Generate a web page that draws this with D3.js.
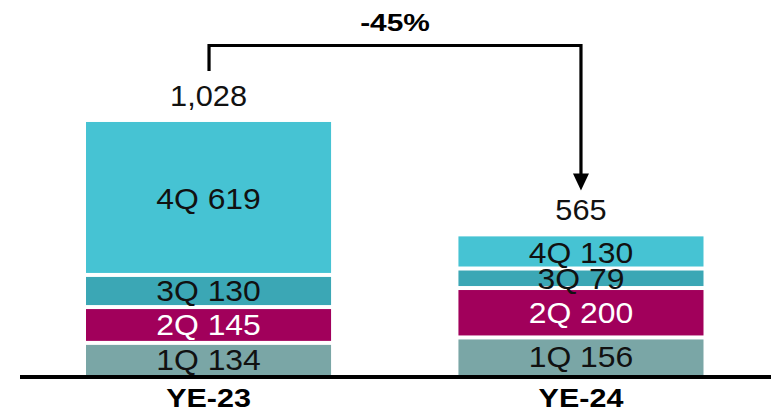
<!DOCTYPE html>
<html>
<head>
<meta charset="utf-8">
<script src="https://cdn.jsdelivr.net/npm/d3@7"></script>
<style>
  html, body { margin: 0; padding: 0; background: #ffffff; }
  svg { display: block; }
  text { font-family: "Liberation Sans", Arial, sans-serif; }
</style>
</head>
<body>
<svg id="chart" width="771" height="412"></svg>
<script>
// ---- data ----
const categories = ["YE-23", "YE-24"];
const quarters = ["1Q", "2Q", "3Q", "4Q"];
const q1 = [134, 156];
const q2 = [145, 200];
const q3 = [130, 79];
const q4 = [619, 130];
const totals = [1028, 565];
const totalLabels = ["1,028", "565"];
const changeLabel = "-45%";

// ---- styles ----
const colors = { "1Q": "#7AA6A6", "2Q": "#A1005B", "3Q": "#3BA7B5", "4Q": "#46C3D3" };
const textColors = { "1Q": "#111111", "2Q": "#ffffff", "3Q": "#111111", "4Q": "#111111" };

const svg = d3.select("#chart");
const baseY = 376;
const pxPerUnit = 0.2471;
const yMax = 1100;

const x = d3.scaleBand().domain(categories).range([86, 703.5]).paddingInner(0.342).paddingOuter(0);
const y = d3.scaleLinear().domain([0, yMax]).range([baseY, baseY - yMax * pxPerUnit]);

const seriesValues = { "1Q": q1, "2Q": q2, "3Q": q3, "4Q": q4 };
const table = categories.map((c, i) => {
  const row = { cat: c };
  quarters.forEach(q => row[q] = seriesValues[q][i]);
  return row;
});
const stacked = d3.stack().keys(quarters)(table);

const gap = 2;
stacked.forEach((layer, li) => {
  const q = layer.key;
  const g = svg.append("g");
  layer.forEach((d, i) => {
    const top = y(d[1]) + (li === quarters.length - 1 ? 0 : gap);
    const bottom = y(d[0]) - (li === 0 ? 0 : gap);
    g.append("rect")
      .attr("x", x(categories[i]))
      .attr("width", x.bandwidth())
      .attr("y", top)
      .attr("height", bottom - top)
      .attr("fill", colors[q]);
    const cx = x(categories[i]) + x.bandwidth() / 2;
    const cy = (y(d[1]) + y(d[0])) / 2;
    g.append("text")
      .attr("transform", `translate(${cx},${cy + 29 * 0.358}) scale(1.1,1)`)
      .attr("text-anchor", "middle")
      .attr("font-size", 29)
      .attr("fill", textColors[q])
      .text(`${q} ${seriesValues[q][i]}`);
  });
});

// totals
categories.forEach((c, i) => {
  const cx = x(c) + x.bandwidth() / 2;
  svg.append("text")
    .attr("transform", `translate(${cx},${y(totals[i]) - 16}) scale(1.06,1)`)
    .attr("text-anchor", "middle")
    .attr("font-size", 29)
    .attr("fill", "#111111")
    .text(totalLabels[i]);
});

// baseline
svg.append("line")
  .attr("x1", 20).attr("x2", 771)
  .attr("y1", 377).attr("y2", 377)
  .attr("stroke", "#000").attr("stroke-width", 4);

// category labels
categories.forEach(c => {
  const cx = x(c) + x.bandwidth() / 2;
  svg.append("text")
    .attr("transform", `translate(${cx},407) scale(1.22,1)`)
    .attr("text-anchor", "middle")
    .attr("font-size", 25)
    .attr("font-weight", "bold")
    .attr("fill", "#000")
    .text(c);
});

// bracket + arrow
const xa = x(categories[0]) + x.bandwidth() / 2 + 0.5;
const xb = x(categories[1]) + x.bandwidth() / 2;
const topY = 45.5;
const tipY = 190.5;
const headH = 17, headW = 16;
svg.append("path")
  .attr("d", `M${xa},71 L${xa},${topY} L${xb},${topY} L${xb},${tipY - headH + 1}`)
  .attr("fill", "none")
  .attr("stroke", "#000")
  .attr("stroke-width", 3.2)
  .attr("stroke-linejoin", "miter");
svg.append("path")
  .attr("d", `M${xb - headW / 2},${tipY - headH} L${xb + headW / 2},${tipY - headH} L${xb},${tipY} Z`)
  .attr("fill", "#000");

svg.append("text")
  .attr("transform", `translate(${(xa + xb) / 2},31) scale(1.3,1)`)
  .attr("text-anchor", "middle")
  .attr("font-size", 23)
  .attr("font-weight", "bold")
  .attr("fill", "#000")
  .text(changeLabel);
</script>
</body>
</html>
